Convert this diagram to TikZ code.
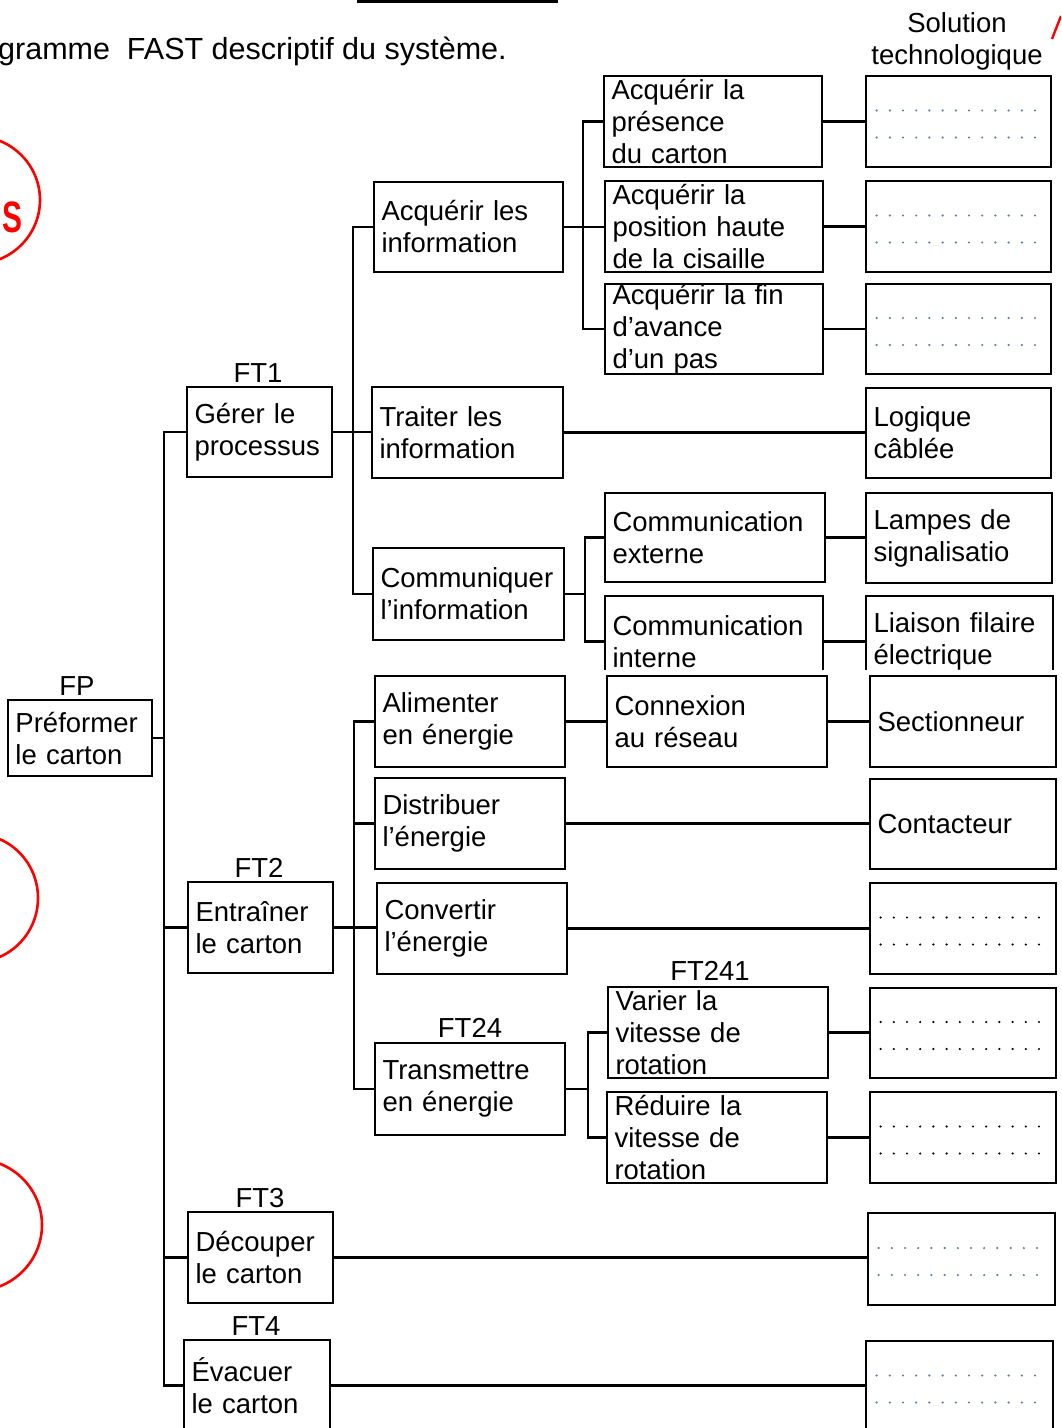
\documentclass[tikz,border=0pt]{standalone}
\usepackage{fontspec}
\setmainfont{Liberation Sans}
\usetikzlibrary{calc}
\definecolor{dotc}{RGB}{95,125,160}
\newcommand\fs{\fontsize{27.5}{32}\selectfont}
\newcommand\bx[6]{%
 \pgfmathsetmacro\bxw{#4-#2}%
 \pgfmathsetmacro\bxh{#5-#3}%
 \pgfmathsetmacro\bxt{#4-#2-15}%
 \pgfmathsetmacro\bxx{(#2+#4)/2}%
 \pgfmathsetmacro\bxy{(#3+#5)/2}%
 \node[box,minimum width=\bxw pt,minimum height=\bxh pt,text width=\bxt pt] (#1) at (\bxx,\bxy) {#6};}
\newcommand\dotrows[2]{%
 \foreach \k in {0,...,12}{%
  \fill[#2] ($(#1.west)+(12+\k*13.2,-11)$) circle (1.2pt);
  \fill[#2] ($(#1.west)+(12+\k*13.2,16)$) circle (1.2pt);}}
\begin{document}
\begin{tikzpicture}[x=1pt,y=-1pt,
  box/.style={draw,line width=2.8pt,inner xsep=7.5pt,inner ysep=0pt,align=left,font=\fs},
  con/.style={line width=2.4pt,line join=miter},
  lbl/.style={font=\fs,inner sep=0pt},
  redarc/.style={draw=red,line width=2.6pt}]
\useasboundingbox (0,0) rectangle (1061,1428);
\clip (0,0) rectangle (1061,1428);
\fill[white] (0,0) rectangle (1061,1428);

% header
\draw[line width=3pt] (357,1) -- (558,1);
\node[font=\fontsize{30.5}{36}\selectfont,anchor=base west,inner sep=0pt] (title) at (-2,59) {gramme\ \ FAST descriptif du système.};
\node[lbl,anchor=base] (sol1) at (957,32) {Solution};
\node[lbl,anchor=base] (sol2) at (957,64) {technologique};
\draw[red,line width=2.4pt] (1052,39) -- (1061,16);

% red marks
\draw[redarc] (-25,200) ellipse [x radius=65, y radius=64];
\draw[redarc] (-25,898) ellipse [x radius=63, y radius=64];
\draw[redarc] (-25,1225) ellipse [x radius=67, y radius=66];
\node[text=red,font=\bfseries\fontsize{44}{44}\selectfont,xscale=0.68,anchor=base east,inner sep=0pt] (sred) at (23,232) {S};

% level 0/1
\bx{fp}{8}{700}{152}{776}{Préformer\\le carton}
\bx{ft1}{187}{387}{332}{477}{Gérer le\\processus}
\bx{ft2}{188}{882}{333}{973}{Entraîner\\le carton}
\bx{ft3}{188}{1212}{333}{1303}{Découper\\le carton}
\bx{ft4}{184}{1340}{330}{1431}{Évacuer\\le carton}
\node[lbl] (lfp) at (77,686) {FP};
\node[lbl] (lft1) at (258,373) {FT1};
\node[lbl] (lft2) at (259,868) {FT2};
\node[lbl] (lft3) at (260,1198) {FT3};
\node[lbl] (lft4) at (256,1326) {FT4};

% level 2 (FT1)
\bx{acq}{374}{182}{563}{272}{Acquérir les\\information}
\bx{trt}{372}{387}{563}{478}{Traiter les\\information}
\bx{com}{373}{548}{564}{640}{Communiquer\\l’information}

% level 3 (FT1)
\bx{a1}{604}{76}{822}{167}{Acquérir la\\présence\\du carton}
\bx{a2}{605}{181}{823}{272}{Acquérir la\\position haute\\de la cisaille}
\bx{a3}{605}{284}{823}{374}{Acquérir la fin\\d’avance\\d’un pas}
\bx{cext}{605}{493}{825}{582}{Communication\\externe}

% solutions (FT1)
\bx{sa1}{866}{76}{1051}{167}{}
\bx{sa2}{866}{181}{1051}{272}{}
\bx{sa3}{866}{284}{1051}{374}{}
\dotrows{sa1}{dotc}
\dotrows{sa2}{dotc}
\dotrows{sa3}{dotc}
\bx{logi}{866}{388}{1051}{478}{Logique\\câblée}
\bx{lamp}{866}{493}{1052}{583}{Lampes de\\signalisatio}
\begin{scope}
\clip (0,0) rectangle (1061,669);
\bx{cint}{605}{596}{823}{687}{Communication\\interne}
\bx{liai}{866}{596}{1053}{687}{Liaison filaire\\électrique}
\end{scope}

% level 2 (FT2)
\bx{ali}{375}{676}{565}{767}{Alimenter\\en énergie}
\bx{dis}{375}{778}{565}{869}{Distribuer\\l’énergie}
\bx{cvt}{377}{883}{567}{974}{Convertir\\l’énergie}
\bx{trm}{375}{1043}{565}{1135}{Transmettre\\en énergie}
\node[lbl] (lft24) at (470,1028) {FT24};
\node[lbl] (lft241) at (710,971) {FT241};

\bx{cnx}{607}{676}{827}{767}{Connexion\\au réseau}
\bx{var}{608}{987}{828}{1078}{Varier la\\vitesse de\\rotation}
\bx{red}{607}{1092}{827}{1183}{Réduire la\\vitesse de\\rotation}

\bx{sec}{870}{676}{1056}{767}{Sectionneur}
\bx{ctc}{870}{779}{1056}{869}{Contacteur}
\bx{scv}{870}{883}{1056}{974}{}
\bx{svar}{870}{988}{1056}{1078}{}
\bx{sred}{870}{1092}{1056}{1183}{}
\bx{sft3}{868}{1213}{1055}{1305}{}
\bx{sft4}{866}{1341}{1053}{1432}{}
\dotrows{scv}{black}
\dotrows{svar}{black}
\dotrows{sred}{black}
\dotrows{sft3}{dotc}
\dotrows{sft4}{dotc}

% spines
\coordinate (s1) at (164,0);
\coordinate (s2) at (353,0);
\coordinate (s3) at (583,0);
\coordinate (s4) at (585,0);
\coordinate (s5) at (354,0);
\coordinate (s6) at (588,0);

\draw[con] (ft1.west) -- (ft1.west -| s1) -- (ft4.west -| s1) -- (ft4.west);
\draw[con] (fp.east) -- (fp.east -| s1);
\draw[con] (ft2.west) -- (ft2.west -| s1);
\draw[con] (ft3.west) -- (ft3.west -| s1);

\draw[con] (acq.west) -- (acq.west -| s2) -- (com.west -| s2) -- (com.west);
\draw[con] (ft1.east) -- (ft1.east -| trt.west);

\draw[con] (a1.west) -- (a1.west -| s3) -- (a3.west -| s3) -- (a3.west);
\draw[con] (acq.east) -- (acq.east -| a2.west);

\draw[con] (cext.west) -- (cext.west -| s4) -- (cint.west -| s4) -- (cint.west);
\draw[con] (com.east) -- (com.east -| s4);

\draw[con] (a1.east) -- (a1.east -| sa1.west);
\draw[con] (a2.east) -- (a2.east -| sa2.west);
\draw[con] (a3.east) -- (a3.east -| sa3.west);
\draw[con] (trt.east) -- (trt.east -| logi.west);
\draw[con] (cext.east) -- (cext.east -| lamp.west);
\draw[con] (cint.east) -- (cint.east -| liai.west);

\draw[con] (ali.west) -- (ali.west -| s5) -- (trm.west -| s5) -- (trm.west);
\draw[con] (dis.west) -- (dis.west -| s5);
\draw[con] (ft2.east) -- (ft2.east -| cvt.west);

\draw[con] (ali.east) -- (ali.east -| cnx.west);
\draw[con] (cnx.east) -- (cnx.east -| sec.west);
\draw[con] (dis.east) -- (dis.east -| ctc.west);
\draw[con] (cvt.east) -- (cvt.east -| scv.west);

\draw[con] (var.west) -- (var.west -| s6) -- (red.west -| s6) -- (red.west);
\draw[con] (trm.east) -- (trm.east -| s6);
\draw[con] (var.east) -- (var.east -| svar.west);
\draw[con] (red.east) -- (red.east -| sred.west);

\draw[con] (ft3.east) -- (ft3.east -| sft3.west);
\draw[con] (ft4.east) -- (ft4.east -| sft4.west);
\end{tikzpicture}
\end{document}
